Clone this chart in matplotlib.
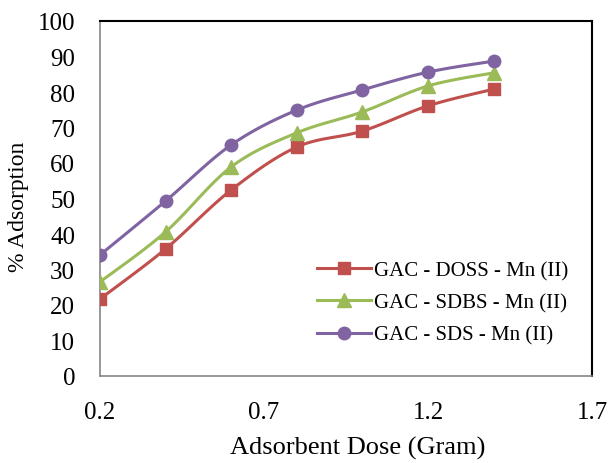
import numpy as np
import matplotlib
matplotlib.use("Agg")
import matplotlib.pyplot as plt
from matplotlib.lines import Line2D

dose = [0.2, 0.4, 0.6, 0.8, 1.0, 1.2, 1.4]
doss = [21.7, 35.8, 52.4, 64.5, 69.0, 76.1, 80.8]
sdbs = [26.5, 40.6, 58.9, 68.5, 74.4, 81.7, 85.4]
sds = [34.1, 49.3, 65.1, 74.9, 80.6, 85.6, 88.7]
labels = ["GAC - DOSS - Mn (II)", "GAC - SDBS - Mn (II)", "GAC - SDS - Mn (II)"]
colors = ["#C0504D", "#9BBB59", "#8064A2"]
markers = ["s", "^", "o"]
xticks = [0.2, 0.7, 1.2, 1.7]
yticks = list(range(0, 101, 10))

plt.rcParams['font.family'] = ['Liberation Serif', 'DejaVu Serif']

def smooth(x, y, n=20):
    x = np.asarray(x, float); y = np.asarray(y, float)
    px = np.concatenate([[x[0]], x, [x[-1]]])
    py = np.concatenate([[y[0]], y, [y[-1]]])
    ox, oy = [], []
    t = np.linspace(0, 1, n)
    for i in range(1, len(px) - 2):
        p0 = np.array([px[i], py[i]]); p3 = np.array([px[i+1], py[i+1]])
        c1 = p0 + (np.array([px[i+1], py[i+1]]) - np.array([px[i-1], py[i-1]])) / 6
        c2 = p3 - (np.array([px[i+2], py[i+2]]) - np.array([px[i], py[i]])) / 6
        b = ((1-t)**3)[:, None]*p0 + (3*(1-t)**2*t)[:, None]*c1 + (3*(1-t)*t**2)[:, None]*c2 + (t**3)[:, None]*p3
        ox.extend(b[:, 0]); oy.extend(b[:, 1])
    return ox, oy

fig = plt.figure(figsize=(6.11, 4.64), dpi=100)
ax = fig.add_axes([100/611, 1-377/464, 492/611, 355/464])

handles = []
for ys, c, m, lab in zip([doss, sdbs, sds], colors, markers, labels):
    sx, sy = smooth(dose, ys)
    ax.plot(sx, sy, color=c, lw=2.2, zorder=2)
    ax.plot(dose, ys, ls='none', marker=m, color=c, ms=9 if m != '^' else 10, zorder=3)
    handles.append(Line2D([], [], color=c, lw=2.2, marker=m, ms=9 if m != '^' else 10))

ax.set_xlim(0.2, 1.7)
ax.set_ylim(0, 100)
ax.set_xticks(xticks)
ax.set_xticklabels([str(v) for v in xticks])
ax.set_yticks(yticks)
ax.tick_params(length=0, labelsize=18)
ax.tick_params(axis='x', pad=18)
ax.tick_params(axis='y', pad=18)
for s in ['left', 'bottom']:
    ax.spines[s].set_color('#868686'); ax.spines[s].set_linewidth(1.2)
for s in ['top', 'right']:
    ax.spines[s].set_color('black'); ax.spines[s].set_linewidth(1.5)

ax.set_xlabel("Adsorbent Dose (Gram)", fontsize=19)
ax.xaxis.set_label_coords(0.524, -0.2)
ax.xaxis.label.set_va('center')
ax.set_ylabel("% Adsorption", fontsize=17)
ax.yaxis.set_label_coords(-82/492, 0.48)
ax.yaxis.label.set_va('center')

ax.legend(handles, labels, loc='lower right', bbox_to_anchor=(0.99, 0.035), frameon=False,
          fontsize=15, handlelength=2.6, handletextpad=0.15, labelspacing=0.6)

fig.savefig("out.png", dpi=100)
